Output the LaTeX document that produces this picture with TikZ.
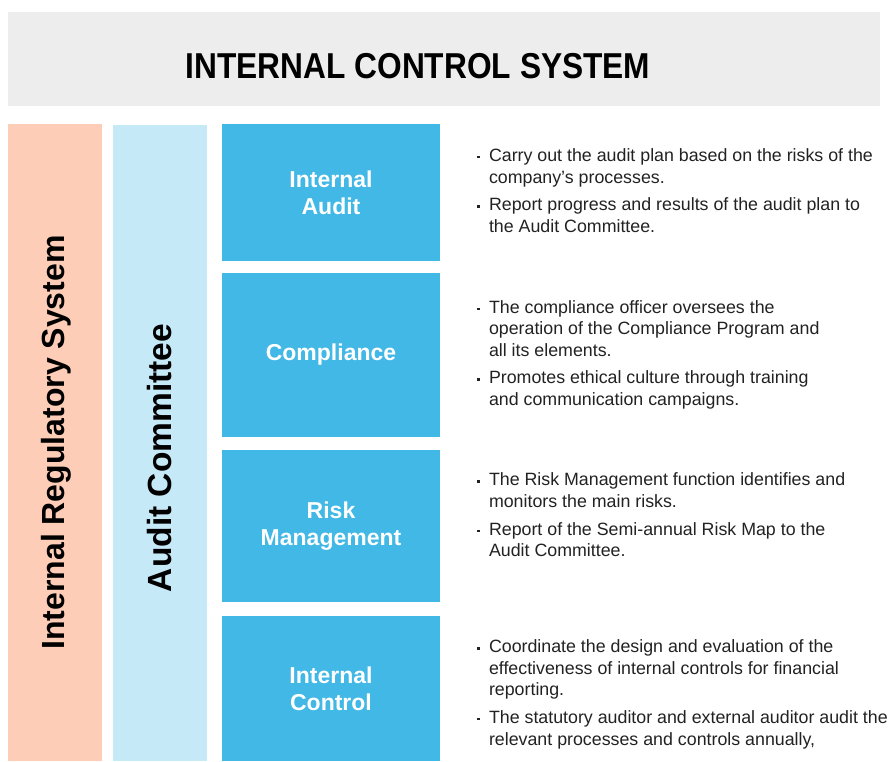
\documentclass[tikz,border=0pt]{standalone}
\usepackage{fontspec}
\setmainfont{Liberation Sans}
\usepackage{xcolor}
\usepackage{tikz}
\usetikzlibrary{positioning, calc}
\definecolor{titlegray}{HTML}{EDEDED}
\definecolor{peach}{HTML}{FDCDB7}
\definecolor{paleblue}{HTML}{C6E9F7}
\definecolor{boxblue}{HTML}{41B8E5}
\definecolor{bodytext}{HTML}{222222}
\newcommand{\sqbullet}{\raisebox{0.32ex}{\rule{2.6pt}{2.6pt}}}
\newcommand{\bodyfont}{\fontsize{17.8}{21.6}\selectfont\color{bodytext}}

\begin{document}
\begin{tikzpicture}[x=1pt, y=-1pt, node distance = 12pt and 37pt,
  band/.style = {rectangle, inner sep=0pt, outer sep=0pt, anchor=north west},
  unit/.style = {rectangle, fill=boxblue, inner sep=0pt, outer sep=0pt, minimum width=218pt,
    text=white, align=center, font=\fontsize{23}{27}\selectfont\bfseries},
  duty/.style = {inner sep=0pt, outer sep=0pt, anchor=west, align=left, font=\bodyfont},
  sidelabel/.style = {rotate=90, inner sep=0pt, font=\bfseries}]
\useasboundingbox (0,0) rectangle (890,761);

\node[band, fill=titlegray, minimum width=872pt, minimum height=94pt] (titlebar) at (8,12) {};
\node[inner sep=0pt] (title) at (418,66) {\scalebox{0.88}[1]{\fontsize{36}{40}\selectfont\bfseries INTERNAL CONTROL SYSTEM}};

\node[band, fill=peach, minimum width=94pt, minimum height=637pt] (regsys) at (8,124) {};
\node[band, fill=paleblue, minimum width=94pt, minimum height=636pt] (auditcom) at (113,125) {};
\node[sidelabel, font=\fontsize{32}{36}\selectfont\bfseries] (regsyslabel) at ($(regsys.center)+(1,0)$) {Internal Regulatory System};
\node[sidelabel, font=\fontsize{33.5}{36}\selectfont\bfseries] (auditcomlabel) at ($(auditcom.center)+(0,15)$) {Audit Committee};

\node[unit, minimum height=137pt, anchor=north west] (intaudit) at (222,124) {Internal\\Audit};
\node[unit, minimum height=164pt, below = of intaudit] (compliance) {Compliance};
\node[unit, minimum height=152pt, below = 13pt of compliance] (riskmgmt) {Risk\\Management};
\node[unit, minimum height=145pt, below = 14pt of riskmgmt] (intcontrol) {Internal\\Control};

\node[duty, right = of intaudit] (intauditduty) {\begin{tabular}{@{}p{12pt}@{}l@{}}
\sqbullet & Carry out the audit plan based on the risks of the\\
 & company's processes.\\[6pt]
\sqbullet & Report progress and results of the audit plan to\\
 & the Audit Committee.
\end{tabular}};
\node[duty, right = of compliance] (complianceduty) {\begin{tabular}{@{}p{12pt}@{}l@{}}
\sqbullet & The compliance officer oversees the\\
 & operation of the Compliance Program and\\
 & all its elements.\\[6pt]
\sqbullet & Promotes ethical culture through training\\
 & and communication campaigns.
\end{tabular}};
\node[duty, right = of riskmgmt, yshift=9pt] (riskmgmtduty) {\begin{tabular}{@{}p{12pt}@{}l@{}}
\sqbullet & The Risk Management function identifies and\\
 & monitors the main risks.\\[6pt]
\sqbullet & Report of the Semi-annual Risk Map to the\\
 & Audit Committee.
\end{tabular}};
\node[duty, right = of intcontrol, yshift=-6pt] (intcontrolduty) {\begin{tabular}{@{}p{12pt}@{}l@{}}
\sqbullet & Coordinate the design and evaluation of the\\
 & effectiveness of internal controls for financial\\
 & reporting.\\[6pt]
\sqbullet & The statutory auditor and external auditor audit the\\
 & relevant processes and controls annually,
\end{tabular}};
\end{tikzpicture}
\end{document}
